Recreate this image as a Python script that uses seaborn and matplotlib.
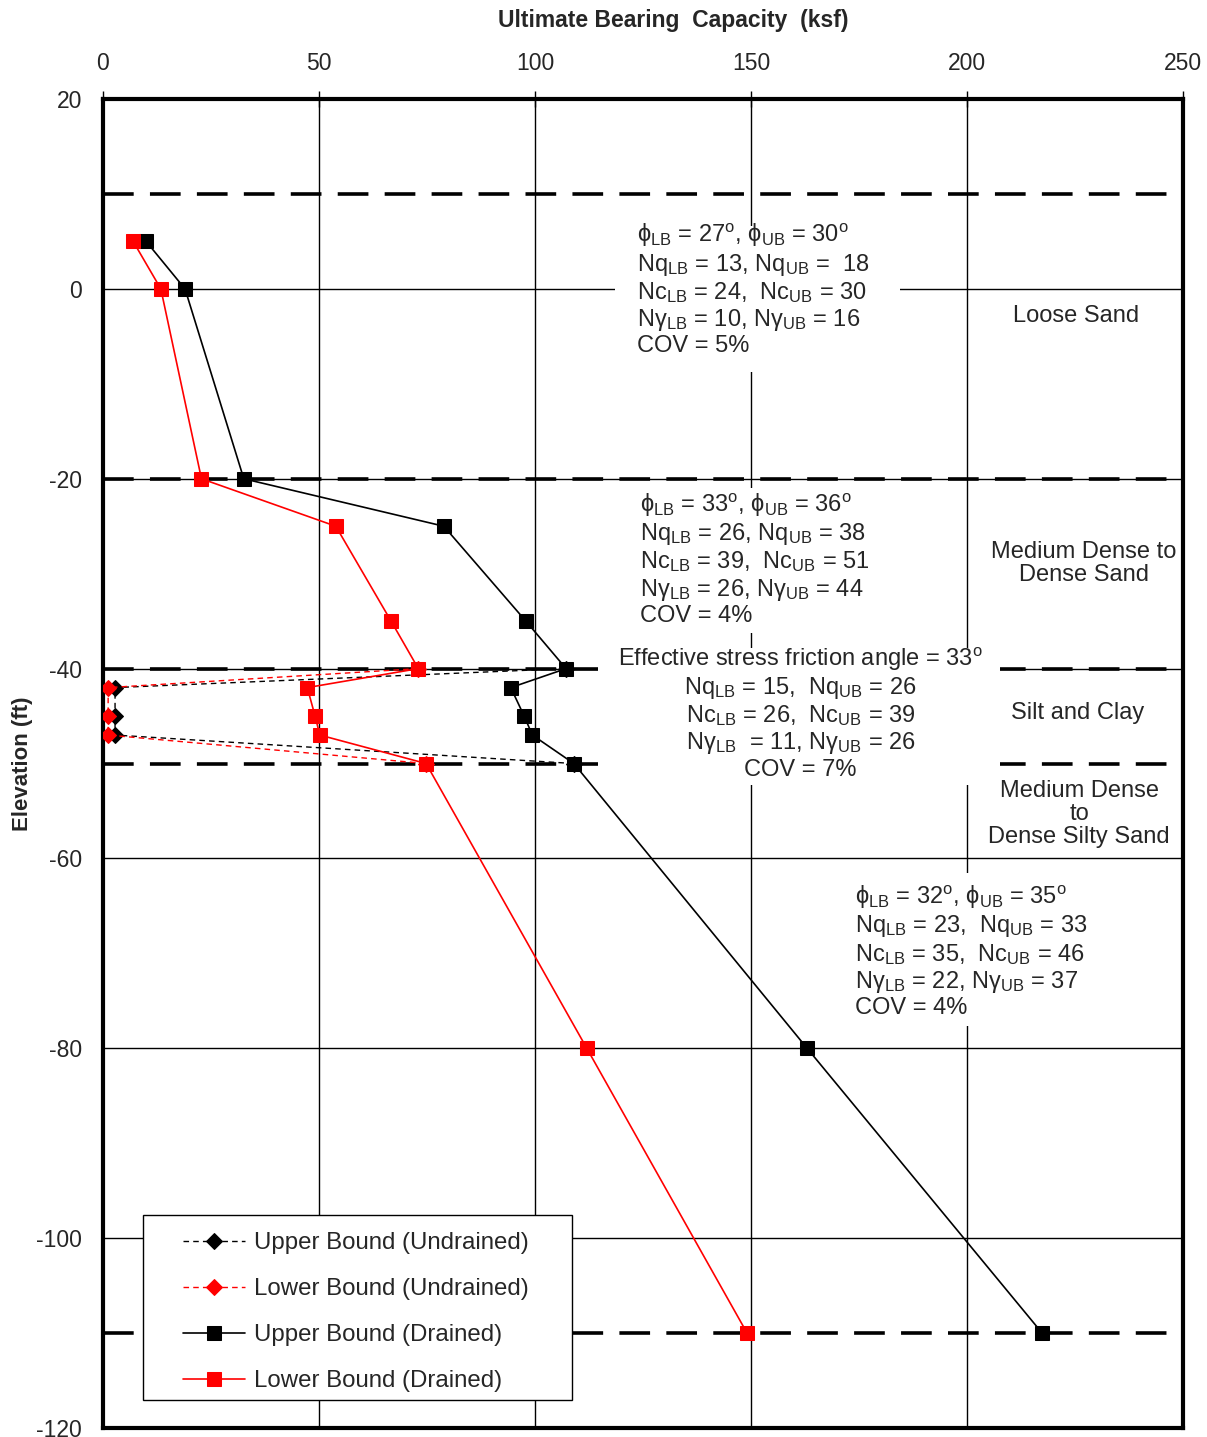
import seaborn as sns
import matplotlib.pyplot as plt
from matplotlib.patches import Rectangle

# Elevations (ft) and ultimate bearing capacity (ksf)
elev = [5, 0, -20, -25, -35, -40, -42, -45, -47, -50, -80, -110]
ub_drained = [10, 19, 32.6, 78.9, 97.9, 107.2, 94.4, 97.5, 99.4, 109, 163, 217.4]
lb_drained = [7, 13.4, 22.8, 53.9, 66.7, 73, 47.3, 49.1, 50.2, 74.8, 112, 149.1]

elev_und = [-40, -42, -45, -47, -50]
ub_undrained = [107.2, 2.8, 2.8, 2.8, 109]
lb_undrained = [73, 1.2, 1.2, 1.2, 74.8]

layer_bounds = [10, -20, -40, -50, -110]

x_ticks = [0, 50, 100, 150, 200, 250]
y_ticks = [20, 0, -20, -40, -60, -80, -100, -120]

box1 = ("ϕ$_{\\rm LB}$ = 27$^{\\rm o}$, ϕ$_{\\rm UB}$ = 30$^{\\rm o}$\n"
        "Nq$_{\\rm LB}$ = 13, Nq$_{\\rm UB}$ =  18\n"
        "Nc$_{\\rm LB}$ = 24,  Nc$_{\\rm UB}$ = 30\n"
        "Nγ$_{\\rm LB}$ = 10, Nγ$_{\\rm UB}$ = 16\n"
        "COV = 5%")
box2 = ("ϕ$_{\\rm LB}$ = 33$^{\\rm o}$, ϕ$_{\\rm UB}$ = 36$^{\\rm o}$\n"
        "Nq$_{\\rm LB}$ = 26, Nq$_{\\rm UB}$ = 38\n"
        "Nc$_{\\rm LB}$ = 39,  Nc$_{\\rm UB}$ = 51\n"
        "Nγ$_{\\rm LB}$ = 26, Nγ$_{\\rm UB}$ = 44\n"
        "COV = 4%")
box3 = ("Effective stress friction angle = 33$^{\\rm o}$\n"
        "Nq$_{\\rm LB}$ = 15,  Nq$_{\\rm UB}$ = 26\n"
        "Nc$_{\\rm LB}$ = 26,  Nc$_{\\rm UB}$ = 39\n"
        "Nγ$_{\\rm LB}$  = 11, Nγ$_{\\rm UB}$ = 26\n"
        "COV = 7%")
box4 = ("ϕ$_{\\rm LB}$ = 32$^{\\rm o}$, ϕ$_{\\rm UB}$ = 35$^{\\rm o}$\n"
        "Nq$_{\\rm LB}$ = 23,  Nq$_{\\rm UB}$ = 33\n"
        "Nc$_{\\rm LB}$ = 35,  Nc$_{\\rm UB}$ = 46\n"
        "Nγ$_{\\rm LB}$ = 22, Nγ$_{\\rm UB}$ = 37\n"
        "COV = 4%")

soil_labels = ["Loose Sand", "Medium Dense to\nDense Sand", "Silt and Clay",
               "Medium Dense\nto\nDense Silty Sand"]

sns.set_style("white")
plt.rcParams['font.family'] = ['Liberation Sans', 'DejaVu Sans']
plt.rcParams['mathtext.fontset'] = 'custom'
plt.rcParams['mathtext.rm'] = 'Liberation Sans'
plt.rcParams['mathtext.it'] = 'Liberation Sans:italic'
plt.rcParams['mathtext.bf'] = 'Liberation Sans:bold'
plt.rcParams['axes.unicode_minus'] = False

fig = plt.figure(figsize=(12.07, 14.37), dpi=100)
ax = fig.add_axes([0.0853, 0.00626, 0.8948, 0.9248])

# grid and layer boundaries
ax.set_axisbelow(True)
ax.grid(True, color='black', lw=1)
for b in layer_bounds:
    ax.axhline(b, color='black', lw=2.6, ls=(0, (8.5, 4.5)), zorder=2)

# undrained series (dashed, diamonds)
sns.lineplot(x=ub_undrained, y=elev_und, sort=False, estimator=None, ax=ax,
             color='black', lw=1, ls=(0, (4, 3)), marker='D', markersize=8,
             markeredgecolor='black', markerfacecolor='black',
             label='Upper Bound (Undrained)', zorder=5)
sns.lineplot(x=lb_undrained, y=elev_und, sort=False, estimator=None, ax=ax,
             color='red', lw=1, ls=(0, (4, 3)), marker='D', markersize=8,
             markeredgecolor='red', markerfacecolor='red',
             label='Lower Bound (Undrained)', zorder=5)
# drained series (solid, squares)
sns.lineplot(x=ub_drained, y=elev, sort=False, estimator=None, ax=ax,
             color='black', lw=1.2, marker='s', markersize=9.5,
             markeredgecolor='black', markerfacecolor='black',
             label='Upper Bound (Drained)', zorder=6)
sns.lineplot(x=lb_drained, y=elev, sort=False, estimator=None, ax=ax,
             color='red', lw=1.2, marker='s', markersize=9.5,
             markeredgecolor='red', markerfacecolor='red',
             label='Lower Bound (Drained)', zorder=6)

# white text boxes (x0, y0, width, height in data units)
for x0, y0, w, h in [(118.5, -8.8, 66, 15.4), (118.5, -36.2, 66, 15.2),
                     (114.6, -52.3, 93, 14.5), (171.8, -77.6, 56.7, 16.1)]:
    ax.add_patch(Rectangle((x0, y0), w, h, fc='white', ec='none', zorder=3))

tk = dict(fontsize=17, va='center', linespacing=1.12, zorder=4)
ax.text(123.6, -0.07, box1, ha='left', **tk)
ax.text(124.3, -28.46, box2, ha='left', **tk)
ax.text(161.5, -44.68, box3, ha='center', multialignment='center', **tk)
ax.text(174, -69.8, box4, ha='left', **tk)

for lab, (lx, ly) in zip(soil_labels, [(225.2, -2.86), (227, -28.9),
                                        (225.7, -44.68), (226, -55.3)]):
    ax.text(lx, ly, lab, fontsize=17, ha='center', va='center',
            multialignment='center', linespacing=1.07, zorder=4)

ax.set_xlim(0, 250)
ax.set_ylim(-120, 20)
ax.set_xticks(x_ticks)
ax.set_yticks(y_ticks)
ax.xaxis.tick_top()
ax.xaxis.set_label_position('top')
ax.tick_params(axis='both', direction='inout', length=12, width=1,
               labelsize=16.5, color='black')
ax.tick_params(axis='x', pad=11)
ax.tick_params(axis='y', pad=9)
ax.set_xlabel('Ultimate Bearing  Capacity  (ksf)', fontsize=16.5,
              fontweight='bold')
ax.xaxis.set_label_coords(0.528, 1.0542)
ax.set_ylabel('Elevation (ft)', fontsize=16, fontweight='bold')
ax.yaxis.set_label_coords(-0.065, 0.5)
for sp in ax.spines.values():
    sp.set_visible(True)
    sp.set_color('black')
    sp.set_linewidth(3)

# legend with a hand-drawn frame
ax.add_patch(Rectangle((0.037, 0.021), 0.397, 0.139, transform=ax.transAxes,
                       fc='white', ec='black', lw=1, zorder=4.5))
ax.legend(loc='center left', bbox_to_anchor=(0.074, 0.0873), frameon=False,
          fontsize=17.3, handlelength=2.6, handletextpad=0.35,
          labelspacing=1.0, borderpad=0, borderaxespad=0)

fig.savefig('out.png', dpi=100)
